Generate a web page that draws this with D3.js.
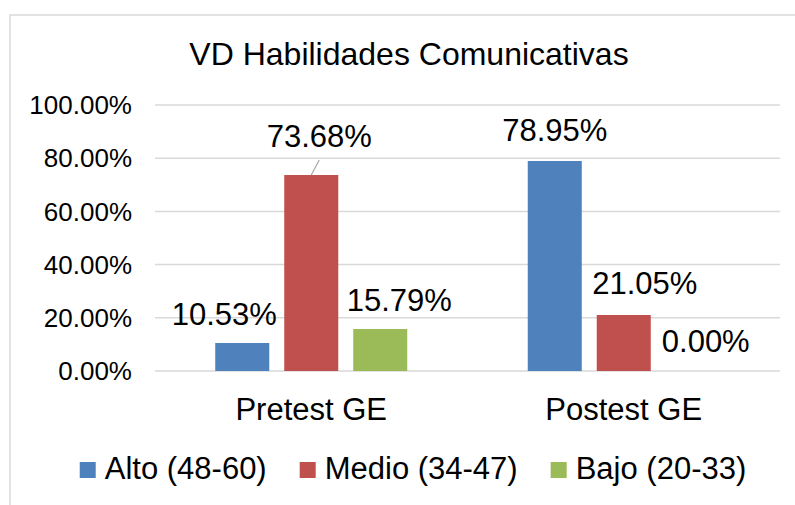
<!DOCTYPE html>
<html>
<head>
<meta charset="utf-8">
<script src="https://cdn.jsdelivr.net/npm/d3@7"></script>
<style>
  body { margin: 0; background: #fff; }
  text { font-family: "Liberation Sans", Arial, sans-serif; fill: #000; }
</style>
</head>
<body>
<script>
// categories on the x axis
var groups = ["Pretest GE", "Postest GE"];
// series (legend order)
var series = ["Alto (48-60)", "Medio (34-47)", "Bajo (20-33)"];
var series_colors = ["#4f81bd", "#c0504d", "#9bbb59"];
// values in percent, one array per series: [Pretest, Postest]
var alto = [10.53, 78.95];
var medio = [73.68, 21.05];
var bajo = [15.79, 0.00];
var y_ticks = [0, 20, 40, 60, 80, 100];

// label nudges (Excel moved some labels sideways so they don't overlap)
var label_dx = [[-18, 0], [8, 21], [19, 13]];
var label_dy = [[-18, -20], [-28, -21], [-18, -19]];

var W = 795, H = 505;
var margin = {left: 155, right: 15, top: 105, bottom: 134};

var svg = d3.select("body").append("svg")
    .attr("width", W)
    .attr("height", H);

svg.append("rect").attr("width", W).attr("height", H).attr("fill", "#fff");

// chart area border (runs past right/bottom edges of the picture)
svg.append("rect")
    .attr("x", 10).attr("y", 15)
    .attr("width", 900).attr("height", 700)
    .attr("fill", "none")
    .attr("stroke", "#d9d9d9")
    .attr("stroke-width", 1.5);

var x0 = d3.scaleBand()
    .domain(groups)
    .range([margin.left, W - margin.right]);

var x1 = d3.scaleBand()
    .domain(series)
    .range([0, 192])
    .paddingInner(0.217);

var y = d3.scaleLinear()
    .domain([0, 100])
    .range([H - margin.bottom, margin.top]);

// gridlines
svg.append("g")
    .selectAll("line")
    .data(y_ticks)
    .enter()
    .append("line")
    .attr("x1", margin.left)
    .attr("x2", W - margin.right)
    .attr("y1", d => y(d))
    .attr("y2", d => y(d))
    .attr("stroke", "#d9d9d9")
    .attr("stroke-width", 1.5);

// y axis labels
svg.append("g")
    .selectAll("text")
    .data(y_ticks)
    .enter()
    .append("text")
    .attr("x", 132)
    .attr("y", d => y(d))
    .attr("dy", "0.35em")
    .attr("text-anchor", "end")
    .style("font-size", "26px")
    .text(d => d3.format(".2f")(d) + "%");

var all_values = [alto, medio, bajo];
var bars_data = [];
series.forEach((s, si) => {
    groups.forEach((g, gi) => {
        bars_data.push({series: s, si: si, group: g, gi: gi, value: all_values[si][gi]});
    });
});

function bar_x(d) {
    return x0(d.group) + x0.bandwidth() / 2 - 96 + x1(d.series);
}

svg.append("g")
    .selectAll("rect")
    .data(bars_data)
    .enter()
    .append("rect")
    .attr("x", d => bar_x(d))
    .attr("y", d => y(d.value))
    .attr("width", x1.bandwidth())
    .attr("height", d => y(0) - y(d.value))
    .attr("fill", d => series_colors[d.si]);

// leader line for the label that got pushed up
bars_data.filter(d => label_dy[d.si][d.gi] < -25).forEach(d => {
    var cx = bar_x(d) + x1.bandwidth() / 2;
    svg.append("line")
        .attr("x1", cx)
        .attr("y1", y(d.value))
        .attr("x2", cx + 8)
        .attr("y2", y(d.value) - 15)
        .attr("stroke", "#a6a6a6")
        .attr("stroke-width", 1.2);
});

// data labels
svg.append("g")
    .selectAll("text")
    .data(bars_data)
    .enter()
    .append("text")
    .attr("x", d => bar_x(d) + x1.bandwidth() / 2 + label_dx[d.si][d.gi])
    .attr("y", d => y(d.value) + label_dy[d.si][d.gi])
    .attr("text-anchor", "middle")
    .style("font-size", "31px")
    .text(d => d3.format(".2f")(d.value) + "%");

// category labels
svg.append("g")
    .selectAll("text")
    .data(groups)
    .enter()
    .append("text")
    .attr("x", d => x0(d) + x0.bandwidth() / 2)
    .attr("y", 420)
    .attr("text-anchor", "middle")
    .style("font-size", "31px")
    .text(d => d);

// title
svg.append("text")
    .attr("x", 409)
    .attr("y", 65)
    .attr("text-anchor", "middle")
    .style("font-size", "32px")
    .text("VD Habilidades Comunicativas");

// legend, laid out from measured text widths and centred
var legend = svg.append("g");
var items = legend.selectAll("g")
    .data(series)
    .enter()
    .append("g");
items.append("rect")
    .attr("width", 16).attr("height", 16)
    .attr("y", 462)
    .attr("fill", (d, i) => series_colors[i]);
items.append("text")
    .attr("x", 25)
    .attr("y", 479)
    .style("font-size", "31px")
    .text(d => d);

var offs = [], pos = 0;
items.each(function(d, i) {
    offs.push(pos);
    pos += 25 + this.querySelector("text").getComputedTextLength() + 33;
});
var total = pos - 33;
var start = 413 - total / 2;
items.attr("transform", (d, i) => "translate(" + (start + offs[i]) + ",0)");
</script>
</body>
</html>
